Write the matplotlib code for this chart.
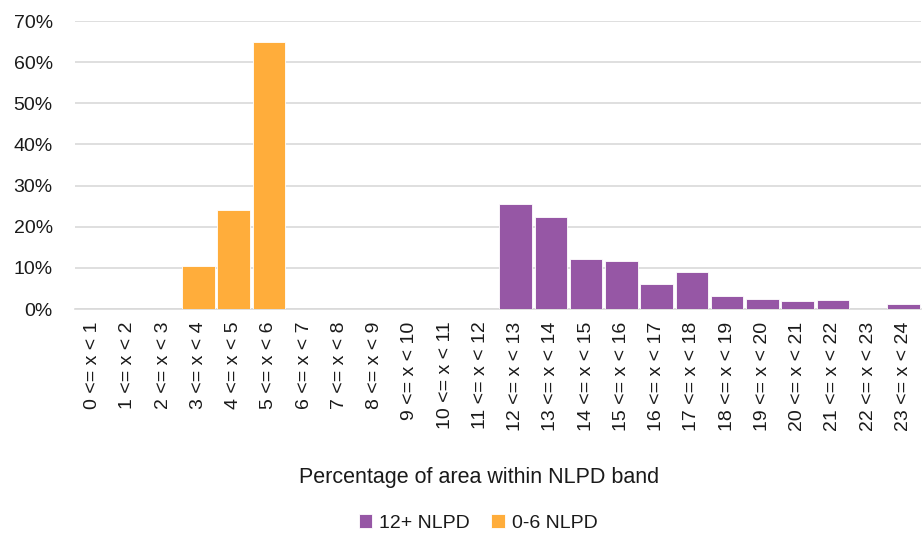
import matplotlib
matplotlib.use("Agg")
import matplotlib.pyplot as plt
from matplotlib import font_manager
from matplotlib.ticker import PercentFormatter, MultipleLocator
import numpy as np

# Band categories and share of area (%) per NLPD group
bands = [f"{i} <= x < {i + 1}" for i in range(24)]
nlpd_12_plus = [0, 0, 0, 0, 0, 0, 0, 0, 0, 0, 0, 0,
                25.4, 22.3, 12.2, 11.7, 6.0, 9.1, 3.1, 2.4, 1.9, 2.1, 0.1, 1.1]
nlpd_0_6 = [0, 0, 0, 10.4, 24.1, 64.8, 0, 0, 0, 0, 0, 0,
            0, 0, 0, 0, 0, 0, 0, 0, 0, 0, 0, 0]
series_names = ["12+ NLPD", "0-6 NLPD"]

installed = {f.name for f in font_manager.fontManager.ttflist}
family = [f for f in ["Liberation Sans Narrow", "Liberation Sans", "DejaVu Sans"] if f in installed]
plt.rcParams["font.family"] = family

text_color = "#1a1a1a"
purple = "#9657A5"
orange = "#FFAD3B"

fig = plt.figure(figsize=(9.23, 5.38), dpi=100)
ax = fig.add_axes([75 / 923, 1 - 309 / 538, (921 - 75) / 923, (309 - 21) / 538])

x = np.arange(len(bands))
ax.bar(x, nlpd_12_plus, width=0.92, color=purple, edgecolor="white", linewidth=0.6,
       label=series_names[0], zorder=3)
ax.bar(x, nlpd_0_6, width=0.92, color=orange, edgecolor="white", linewidth=0.6,
       label=series_names[1], zorder=3)

ax.set_xlim(-0.5, len(bands) - 0.5)
ax.set_ylim(0, 70)
ax.yaxis.set_major_locator(MultipleLocator(10))
ax.yaxis.set_major_formatter(PercentFormatter(decimals=0))
ax.grid(axis="y", color="#d9d9d9", linewidth=1.2, zorder=0)
for s in ["top", "right", "left"]:
    ax.spines[s].set_visible(False)
ax.spines["bottom"].set_color("#d9d9d9")
ax.spines["bottom"].set_linewidth(1.2)

ax.set_xticks(x)
ax.set_xticklabels(bands, rotation=90, fontsize=14, color=text_color)
ax.tick_params(axis="both", length=0, pad=9, labelsize=14, colors=text_color)
ax.tick_params(axis="y", pad=16)

fig.text(479 / 923, 1 - 478 / 538, "Percentage of area within NLPD band",
         ha="center", va="center", fontsize=15.5, color=text_color)

handles, labels = ax.get_legend_handles_labels()
fig.legend(handles, labels, loc="center", bbox_to_anchor=(478 / 923, 1 - 523 / 538),
           ncol=2, frameon=False, fontsize=14, handlelength=0.7, handleheight=0.7,
           handletextpad=0.35, columnspacing=1.1, labelcolor=text_color)

fig.savefig("out.png", dpi=100)
